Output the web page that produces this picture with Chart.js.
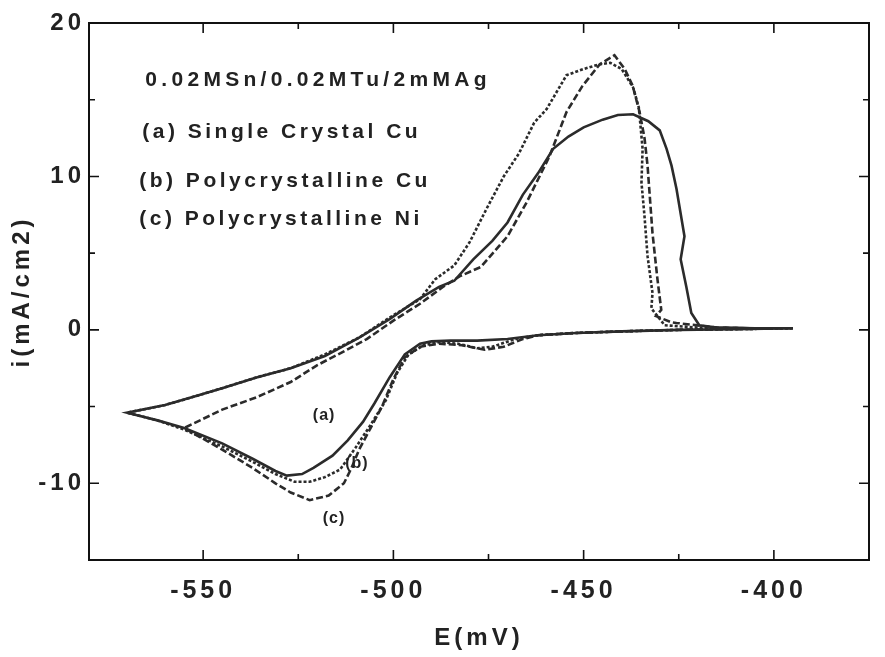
<!DOCTYPE html>
<html>
<head>
<meta charset="utf-8">
<script src="https://cdn.jsdelivr.net/npm/chart.js@4.4.0/dist/chart.umd.min.js"></script>
<style>
  html, body { margin: 0; padding: 0; background: #fff; }
  #wrap { width: 885px; height: 657px; }
</style>
</head>
<body>
<div id="wrap"><canvas id="cv"></canvas></div>
<script>
// cyclic voltammograms, [E (mV), i (mA/cm2)] in scan order
const curveA = [
  [-395,0.1],[-410,0.05],[-425,0],[-440,-0.1],[-452,-0.2],[-462,-0.35],[-470,-0.6],[-478,-0.7],
  [-485,-0.7],[-490,-0.75],[-493,-0.9],[-497,-1.6],[-501,-3.1],[-505,-4.8],[-508,-6.0],[-512,-7.2],
  [-516,-8.2],[-521,-9.0],[-524,-9.4],[-528,-9.5],[-531,-9.2],[-537,-8.4],[-545,-7.4],[-555,-6.4],
  [-562,-5.9],[-570,-5.4],
  [-560,-4.9],[-553,-4.4],[-545,-3.8],[-536,-3.1],[-527,-2.5],[-518,-1.7],[-509,-0.5],[-501,0.7],
  [-494,1.9],[-488,2.8],[-484,3.2],[-479,4.6],[-474,5.8],[-470,7.0],[-466,8.8],[-462,10.2],
  [-458,11.8],[-454,12.6],[-450,13.2],[-445,13.7],[-441,14.0],[-437,14.05],[-433,13.6],[-430,13.0],
  [-428.2,11.8],[-426.9,10.7],[-425.6,9.2],[-423.5,6.1],[-424.5,4.6],[-423,2.8],[-421.7,1.1],
  [-419.6,0.3],[-415,0.15],[-405,0.1],[-395,0.1]
];
const curveB = [
  [-395,0.1],[-410,0.05],[-425,0],[-440,-0.1],[-452,-0.2],[-462,-0.35],[-468,-0.6],[-474,-1.1],
  [-478,-1.2],[-483,-0.9],[-488,-0.8],[-492,-1.0],[-496,-1.6],[-499,-2.8],[-502,-4.6],[-506,-6.2],
  [-510,-7.7],[-512,-8.4],[-514,-9.1],[-518,-9.6],[-522,-9.9],[-526,-9.9],[-531,-9.4],[-537,-8.6],
  [-545,-7.6],[-555,-6.5],[-562,-5.9],[-570,-5.4],
  [-560,-4.9],[-553,-4.4],[-545,-3.8],[-536,-3.1],[-527,-2.5],[-518,-1.6],[-509,-0.5],[-501,0.8],
  [-493,2.0],[-489,3.3],[-484,4.2],[-480,5.7],[-475.5,7.9],[-471,10.0],[-467,11.5],[-463,13.5],
  [-459.7,14.4],[-454.5,16.6],[-450,17.0],[-446,17.3],[-443,17.4],[-440,17.0],[-437,15.8],
  [-435.5,14.5],[-434.5,11.8],[-434.8,9.6],[-434,7.4],[-433.2,4.8],[-431.9,2.4],[-432.2,1.4],
  [-428.7,0.3],[-420,0.15],[-405,0.1],[-395,0.1]
];
const curveC = [
  [-395,0.1],[-410,0.05],[-425,0],[-440,-0.1],[-452,-0.2],[-462,-0.35],[-466,-0.6],[-471,-1.1],
  [-476,-1.3],[-482,-1.0],[-488,-0.9],[-493,-1.1],[-497,-1.8],[-500,-3.2],[-503,-5.0],[-506,-6.4],
  [-509,-7.8],[-511,-9.0],[-513,-10.0],[-517,-10.8],[-522,-11.1],[-527,-10.6],[-531,-10.0],
  [-537,-9.0],[-545,-7.8],[-555,-6.4],
  [-545,-5.2],[-536,-4.4],[-527,-3.4],[-520,-2.3],[-513,-1.4],[-507,-0.6],[-500,0.6],[-493,1.7],
  [-487,2.8],[-482.5,3.5],[-477,4.1],[-470,6.1],[-465,8.3],[-459,11.3],[-454.5,14.2],[-450.3,15.9],
  [-445.8,17.3],[-441.9,17.9],[-439.2,17.0],[-437.1,15.9],[-435.3,14.2],[-434,12.5],[-433.2,10.7],
  [-431.9,6.3],[-430.6,3.3],[-429.6,1.3],[-431,0.9],[-427,0.5],[-425.6,0.45],[-415,0.15],
  [-405,0.1],[-395,0.1]
];

// legend block (top left) and curve tags
const noteText = ['0.02MSn/0.02MTu/2mMAg', '(a) Single Crystal Cu', '(b) Polycrystalline Cu', '(c) Polycrystalline Ni'];
const noteE = [-565.2, -566, -566.8, -566.8];
const noteI = [16.3, 12.9, 9.7, 7.2];
const tagText = ['(a)', '(b)', '(c)'];
const tagE = [-518.2, -509.6, -515.6];
const tagI = [-5.6, -8.7, -12.3];

const FONT = "'Liberation Sans', Arial, sans-serif";
const INK = '#2b2b2b';

const toXY = arr => arr.map(p => ({ x: p[0], y: p[1] }));

// box + inward ticks on all four sides
const frameTicks = {
    id: 'frameTicks',
    beforeDraw(chart) {
        chart.ctx.letterSpacing = '4px';
    },
    afterDraw(chart) {
        const { ctx, chartArea: a, scales } = chart;
        const xs = scales.x, ys = scales.y;
        ctx.save();
        ctx.strokeStyle = '#111';
        ctx.lineWidth = 2;
        ctx.strokeRect(a.left, a.top, a.right - a.left, a.bottom - a.top);
        ctx.lineWidth = 1.6;
        ctx.beginPath();
        xs.ticks.forEach(t => {
            if (t.value % 25) return;
            const px = xs.getPixelForValue(t.value);
            const len = t.value % 50 ? 6 : 10;
            ctx.moveTo(px, a.bottom); ctx.lineTo(px, a.bottom - len);
            ctx.moveTo(px, a.top); ctx.lineTo(px, a.top + len);
        });
        ys.ticks.forEach(t => {
            if (t.value % 5) return;
            const py = ys.getPixelForValue(t.value);
            const len = t.value % 10 ? 6 : 10;
            ctx.moveTo(a.left, py); ctx.lineTo(a.left + len, py);
            ctx.moveTo(a.right, py); ctx.lineTo(a.right - len, py);
        });
        ctx.stroke();
        ctx.restore();
    },
    afterDatasetsDraw(chart) {
        const { ctx, scales } = chart;
        ctx.save();
        ctx.fillStyle = '#222';
        ctx.textBaseline = 'middle';
        ctx.textAlign = 'left';
        ctx.font = 'bold 21px ' + FONT;
        noteText.forEach((s, i) => {
            ctx.letterSpacing = i === 0 ? '4.3px' : '3.5px';
            ctx.fillText(s, scales.x.getPixelForValue(noteE[i]), scales.y.getPixelForValue(noteI[i]));
        });
        ctx.font = 'bold 16px ' + FONT;
        ctx.letterSpacing = '1px';
        ctx.textAlign = 'center';
        tagText.forEach((s, i) => {
            ctx.fillText(s, scales.x.getPixelForValue(tagE[i]), scales.y.getPixelForValue(tagI[i]));
        });
        ctx.restore();
    }
};

const ctx = document.getElementById('cv').getContext('2d');
new Chart(ctx, {
    type: 'scatter',
    data: {
        datasets: [
            { label: 'a', data: toXY(curveA), borderDash: [] },
            { label: 'b', data: toXY(curveB), borderDash: [3, 2] },
            { label: 'c', data: toXY(curveC), borderDash: [7, 3] }
        ].map(d => Object.assign(d, {
            showLine: true,
            borderColor: INK,
            borderWidth: 2.6,
            pointRadius: 0,
            tension: 0,
            fill: false
        }))
    },
    options: {
        responsive: true,
        maintainAspectRatio: false,
        animation: false,
        layout: { padding: { left: 0, right: 14, top: 23, bottom: 0 } },
        plugins: {
            legend: { display: false },
            tooltip: { enabled: false }
        },
        scales: {
            x: {
                type: 'linear',
                min: -580,
                max: -375,
                afterFit: s => { s.height = 97; },
                grid: { display: false, drawTicks: false },
                border: { display: false },
                ticks: {
                    stepSize: 25,
                    autoSkip: false,
                    maxRotation: 0,
                    padding: 16,
                    color: '#222',
                    font: { family: FONT, size: 25, weight: 'bold' },
                    callback: v => (v % 50 === 0 ? String(v) : '')
                },
                title: {
                    display: true,
                    text: 'E(mV)',
                    color: '#222',
                    font: { family: FONT, size: 24, weight: 'bold' },
                    padding: { top: 0, bottom: 4 }
                }
            },
            y: {
                type: 'linear',
                min: -15,
                max: 20,
                afterFit: s => { s.width = 89; },
                grid: { display: false, drawTicks: false },
                border: { display: false },
                ticks: {
                    stepSize: 5,
                    autoSkip: false,
                    padding: 4,
                    color: '#222',
                    font: { family: FONT, size: 24, weight: 'bold' },
                    callback: v => (v % 10 === 0 ? String(v) : '')
                },
                title: {
                    display: true,
                    text: 'i(mA/cm2)',
                    color: '#222',
                    font: { family: FONT, size: 24, weight: 'bold' },
                    padding: { top: 8, bottom: 0 }
                }
            }
        }
    },
    plugins: [frameTicks]
});
</script>
</body>
</html>
